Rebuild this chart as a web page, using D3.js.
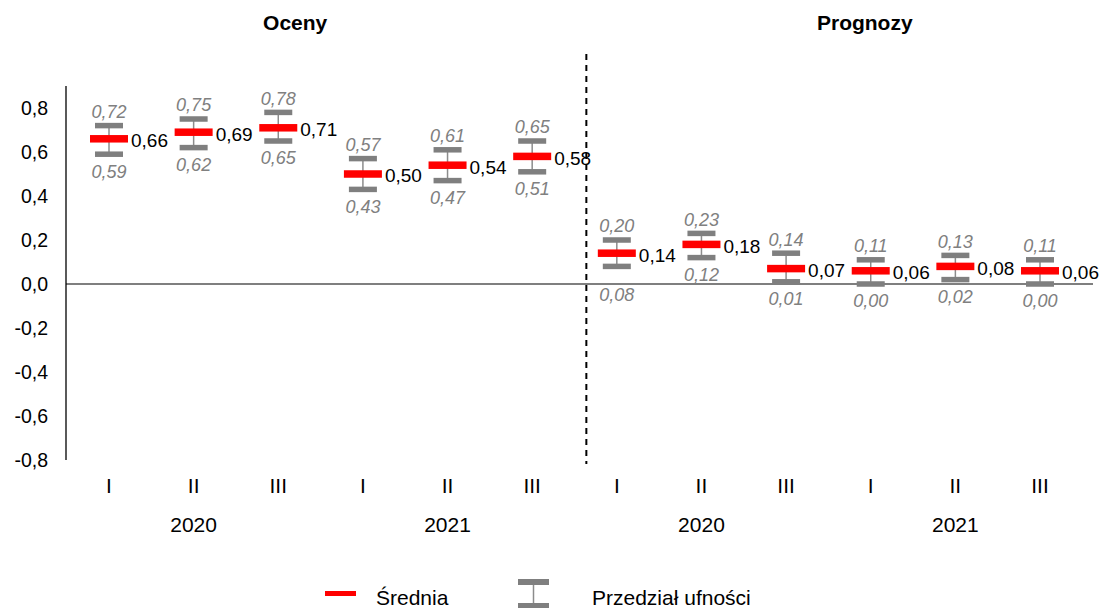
<!DOCTYPE html>
<html>
<head>
<meta charset="utf-8">
<script src="https://cdn.jsdelivr.net/npm/d3@7"></script>
<style>
  html, body { margin: 0; padding: 0; background: #fff; }
  svg { display: block; font-family: "Liberation Sans", Arial, sans-serif; }
</style>
</head>
<body>
<svg id="chart" width="1105" height="608"></svg>
<script>
// ---- data ----
const categories = ["I", "II", "III", "I", "II", "III", "I", "II", "III", "I", "II", "III"];
const years = ["2020", "2021", "2020", "2021"];
const panels = ["Oceny", "Prognozy"];
const means = [0.66, 0.69, 0.71, 0.50, 0.54, 0.58, 0.14, 0.18, 0.07, 0.06, 0.08, 0.06];
const upper = [0.72, 0.75, 0.78, 0.57, 0.61, 0.65, 0.20, 0.23, 0.14, 0.11, 0.13, 0.11];
const lower = [0.59, 0.62, 0.65, 0.43, 0.47, 0.51, 0.08, 0.12, 0.01, 0.00, 0.02, 0.00];
const yTicks = [-0.8, -0.6, -0.4, -0.2, 0.0, 0.2, 0.4, 0.6, 0.8];
const legendLabels = ["Średnia", "Przedział ufności"];

// ---- layout ----
const svg = d3.select("#chart");
const plotLeft = 66, plotRight = 1093;
const fmt = v => d3.format(".2f")(v).replace(".", ",");
const fmtTick = v => d3.format(".1f")(v).replace(".", ",").replace("−", "-").replace("-0,0", "0,0");

const x = d3.scalePoint().domain(d3.range(categories.length)).range([109, 1040]);
const y = d3.scaleLinear().domain([-0.8, 0.9]).range([460, 86]);
const step = x.step();

// y axis line
svg.append("line")
  .attr("x1", plotLeft).attr("x2", plotLeft)
  .attr("y1", y(0.9)).attr("y2", y(-0.8))
  .attr("stroke", "#000").attr("stroke-width", 1.3);

// y tick labels
svg.append("g").selectAll("text").data(yTicks).join("text")
  .attr("x", 48).attr("y", d => y(d)).attr("dy", "0.36em")
  .attr("text-anchor", "end").attr("font-size", 19.5).attr("fill", "#000")
  .text(fmtTick);

// zero line
svg.append("line")
  .attr("x1", plotLeft).attr("x2", plotRight)
  .attr("y1", y(0)).attr("y2", y(0))
  .attr("stroke", "#000").attr("stroke-width", 1.2);

// dashed separator
const sepX = x(6) - 0.36 * step;
svg.append("line")
  .attr("x1", sepX).attr("x2", sepX)
  .attr("y1", 54).attr("y2", 464)
  .attr("stroke", "#000").attr("stroke-width", 2)
  .attr("stroke-dasharray", "6,5");

// panel titles
svg.append("text").attr("x", x(2) + 0.2 * step).attr("y", 30)
  .attr("text-anchor", "middle").attr("font-size", 21).attr("font-weight", "bold")
  .text(panels[0]);
svg.append("text").attr("x", x(8) + 0.93 * step).attr("y", 30)
  .attr("text-anchor", "middle").attr("font-size", 21).attr("font-weight", "bold")
  .text(panels[1]);

// category labels
svg.append("g").selectAll("text").data(categories).join("text")
  .attr("x", (d, i) => x(i)).attr("y", 493)
  .attr("text-anchor", "middle").attr("font-size", 21)
  .text(d => d);

// year labels
svg.append("g").selectAll("text").data(years).join("text")
  .attr("x", (d, i) => x(i * 3 + 1)).attr("y", 532)
  .attr("text-anchor", "middle").attr("font-size", 21)
  .text(d => d);

// points
const idx = d3.range(means.length);
const g = svg.append("g");
// whiskers
g.selectAll("line.wh").data(idx).join("line").attr("class", "wh")
  .attr("x1", i => x(i)).attr("x2", i => x(i))
  .attr("y1", i => y(upper[i])).attr("y2", i => y(lower[i]))
  .attr("stroke", "#8c8c8c").attr("stroke-width", 1.5);
// caps
const capW = 28, capH = 5.5;
g.selectAll("rect.up").data(idx).join("rect").attr("class", "up")
  .attr("x", i => x(i) - capW / 2).attr("y", i => y(upper[i]) - capH / 2)
  .attr("width", capW).attr("height", capH).attr("fill", "#7f7f7f");
g.selectAll("rect.lo").data(idx).join("rect").attr("class", "lo")
  .attr("x", i => x(i) - capW / 2).attr("y", i => y(lower[i]) - capH / 2)
  .attr("width", capW).attr("height", capH).attr("fill", "#7f7f7f");
// means
const meanW = 38, meanH = 7.5;
g.selectAll("rect.mean").data(idx).join("rect").attr("class", "mean")
  .attr("x", i => x(i) - meanW / 2).attr("y", i => y(means[i]) - meanH / 2)
  .attr("width", meanW).attr("height", meanH).attr("fill", "#ff0000");

// labels
g.selectAll("text.ml").data(idx).join("text").attr("class", "ml")
  .attr("x", i => x(i) + 22).attr("y", i => y(means[i]) + 1.5).attr("dy", "0.36em")
  .attr("font-size", 19).attr("fill", "#000")
  .text(i => fmt(means[i]));
g.selectAll("text.ul").data(idx).join("text").attr("class", "ul")
  .attr("x", i => x(i)).attr("y", i => y(upper[i]) - 14).attr("dy", "0.36em")
  .attr("text-anchor", "middle").attr("font-size", 18).attr("font-style", "italic")
  .attr("fill", "#808080")
  .text(i => fmt(upper[i]));
// lower labels: pushed below the zero line when they would sit on it
const lowerLabelY = i => {
  const c = y(lower[i]) + 17;
  return Math.abs(c - y(0)) < 5 ? y(0) + 11 : c;
};
g.selectAll("text.ll").data(idx).join("text").attr("class", "ll")
  .attr("x", i => x(i)).attr("y", lowerLabelY).attr("dy", "0.36em")
  .attr("text-anchor", "middle").attr("font-size", 18).attr("font-style", "italic")
  .attr("fill", "#808080")
  .text(i => fmt(lower[i]));

// legend
const lg = svg.append("g");
lg.append("rect").attr("x", 325).attr("y", 591).attr("width", 31).attr("height", 5).attr("fill", "#ff0000");
lg.append("text").attr("x", 376).attr("y", 605).attr("font-size", 21).text(legendLabels[0]);
lg.append("rect").attr("x", 518).attr("y", 579).attr("width", 31).attr("height", 6).attr("fill", "#7f7f7f");
lg.append("rect").attr("x", 518).attr("y", 603).attr("width", 31).attr("height", 6).attr("fill", "#7f7f7f");
lg.append("line").attr("x1", 533.5).attr("x2", 533.5).attr("y1", 585).attr("y2", 603)
  .attr("stroke", "#8c8c8c").attr("stroke-width", 1.5);
lg.append("text").attr("x", 592).attr("y", 605).attr("font-size", 21).text(legendLabels[1]);
</script>
</body>
</html>
